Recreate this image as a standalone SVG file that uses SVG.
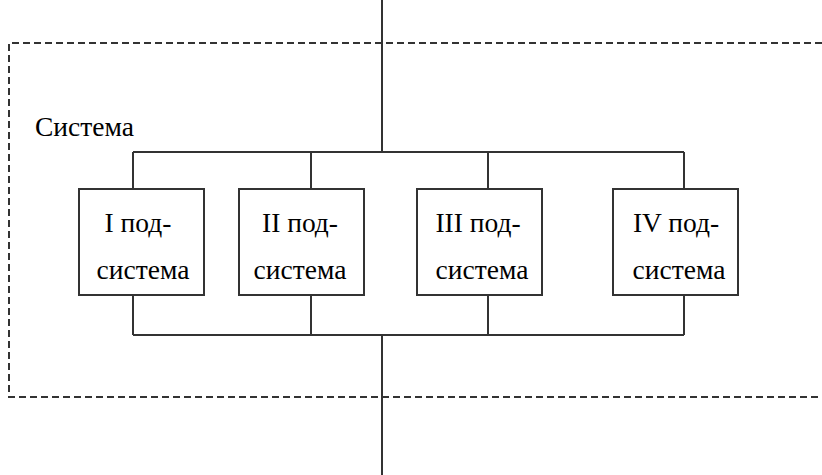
<svg xmlns="http://www.w3.org/2000/svg" width="822" height="475" viewBox="0 0 822 475">
<style>
.ln{stroke:#333;stroke-width:2;fill:none}
.dash{stroke:#333;stroke-width:2;fill:none;stroke-dasharray:7 4}
.box{stroke:#333;stroke-width:2;fill:#fff}
text{font-family:"Liberation Serif","Times New Roman","DejaVu Serif",serif;font-size:27.5px;fill:#000}
.c{text-anchor:middle}
</style>
<rect width="822" height="475" fill="#fff"/>
<g id="system-boundary">
<path class="dash" d="M822,43 H9 V397 H822"/>
<text x="35" y="136">Система</text>
</g>
<g id="connectors">
<line class="ln" x1="382" y1="0" x2="382" y2="152"/>
<line class="ln" x1="133" y1="152" x2="684" y2="152"/>
<line class="ln" x1="133" y1="152" x2="133" y2="189"/>
<line class="ln" x1="311" y1="152" x2="311" y2="189"/>
<line class="ln" x1="488" y1="152" x2="488" y2="189"/>
<line class="ln" x1="684" y1="152" x2="684" y2="189"/>
<line class="ln" x1="133" y1="295" x2="133" y2="335"/>
<line class="ln" x1="311" y1="295" x2="311" y2="335"/>
<line class="ln" x1="488" y1="295" x2="488" y2="335"/>
<line class="ln" x1="684" y1="295" x2="684" y2="335"/>
<line class="ln" x1="133" y1="335" x2="684" y2="335"/>
<line class="ln" x1="382" y1="335" x2="382" y2="475"/>
</g>
<g id="sub1">
<rect class="box" x="79" y="189" width="125" height="106"/>
<text class="c" x="138" y="232">I под-</text>
<text class="c" x="143" y="279">система</text>
</g>
<g id="sub2">
<rect class="box" x="239" y="189" width="125" height="106"/>
<text class="c" x="300" y="232">II под-</text>
<text class="c" x="300" y="279">система</text>
</g>
<g id="sub3">
<rect class="box" x="417" y="189" width="125" height="106"/>
<text class="c" x="478" y="232">III под-</text>
<text class="c" x="482" y="279">система</text>
</g>
<g id="sub4">
<rect class="box" x="613" y="189" width="125" height="106"/>
<text class="c" x="676" y="232">IV под-</text>
<text class="c" x="679" y="279">система</text>
</g>
</svg>
